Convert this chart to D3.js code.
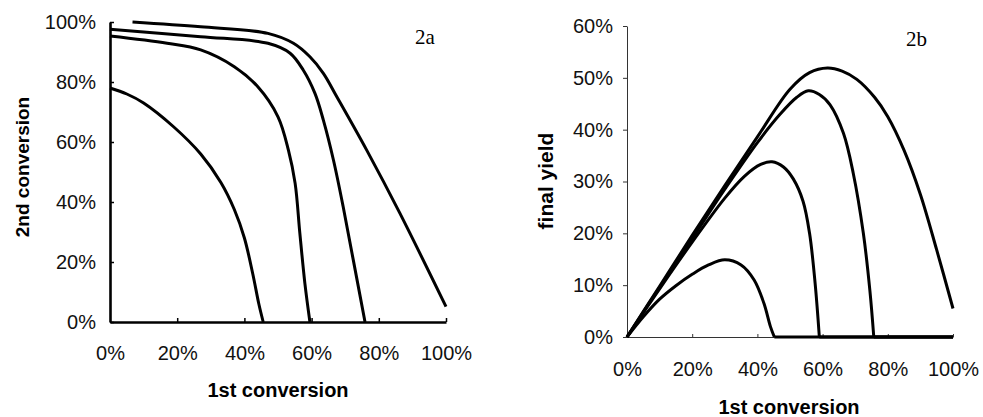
<!DOCTYPE html>
<html>
<head>
<meta charset="utf-8">
<script src="https://cdn.jsdelivr.net/npm/d3@7"></script>
<style>
  body { margin: 0; background: #fff; }
  svg { display: block; }
</style>
</head>
<body>
<svg id="chart" width="983" height="417"></svg>
<script>
// ---- data ----
// 2a : 2nd conversion vs 1st conversion, four curves
var curveA2a = [[0, 0.78], [0.05, 0.76], [0.10, 0.73], [0.19, 0.65], [0.27, 0.56], [0.33, 0.465], [0.37, 0.375], [0.40, 0.28], [0.425, 0.16], [0.443, 0.06], [0.456, 0]];
var curveB2a = [[0, 0.953], [0.17, 0.929], [0.27, 0.907], [0.37, 0.851], [0.44, 0.784], [0.50, 0.684], [0.531, 0.573], [0.551, 0.462], [0.565, 0.296], [0.58, 0.129], [0.595, 0]];
var curveC2a = [[0, 0.976], [0.27, 0.951], [0.47, 0.929], [0.536, 0.896], [0.575, 0.84], [0.61, 0.762], [0.635, 0.673], [0.665, 0.54], [0.694, 0.384], [0.724, 0.207], [0.759, 0]];
var curveD2a = [[0.067, 1.0], [0.27, 0.984], [0.47, 0.962], [0.546, 0.929], [0.595, 0.884], [0.635, 0.829], [0.675, 0.751], [0.764, 0.573], [0.863, 0.362], [1.0, 0.051]];

// 2b : final yield vs 1st conversion (the three lower curves run on along 0 to 100%)
var curveE2b = [[0, 0], [0.05, 0.039], [0.10, 0.073], [0.15, 0.099], [0.20, 0.121], [0.25, 0.139], [0.30, 0.149], [0.35, 0.139], [0.39, 0.11], [0.42, 0.065], [0.44, 0.02], [0.452, 0], [1.0, 0]];
var curveF2b = [[0, 0], [0.10, 0.093], [0.20, 0.183], [0.30, 0.268], [0.36, 0.31], [0.41, 0.333], [0.445, 0.338], [0.48, 0.328], [0.51, 0.305], [0.54, 0.262], [0.56, 0.20], [0.577, 0.104], [0.59, 0], [1.0, 0]];
var curveG2b = [[0, 0], [0.10, 0.096], [0.20, 0.19], [0.30, 0.285], [0.40, 0.375], [0.47, 0.43], [0.52, 0.462], [0.556, 0.475], [0.59, 0.468], [0.623, 0.448], [0.664, 0.393], [0.694, 0.316], [0.725, 0.20], [0.745, 0.09], [0.757, 0], [1.0, 0]];
var curveH2b = [[0, 0], [0.10, 0.098], [0.20, 0.196], [0.30, 0.292], [0.40, 0.386], [0.50, 0.478], [0.56, 0.51], [0.615, 0.519], [0.66, 0.513], [0.705, 0.497], [0.76, 0.462], [0.80, 0.425], [0.85, 0.36], [0.90, 0.275], [0.95, 0.168], [1.0, 0.055]];

var xTicks = [0, 0.2, 0.4, 0.6, 0.8, 1.0];
var yTicks2a = [0, 0.2, 0.4, 0.6, 0.8, 1.0];
var yTicks2b = [0, 0.1, 0.2, 0.3, 0.4, 0.5, 0.6];

var xTitle = "1st conversion";
var yTitle2a = "2nd conversion";
var yTitle2b = "final yield";
var panelLabels = ["2a", "2b"];

// ---- drawing ----
var svg = d3.select("#chart");
var sansFont = "'Liberation Sans', Arial, Helvetica, sans-serif";
var pct = d3.format(".0%");

var xL = d3.scaleLinear().domain([0, 1]).range([110, 446]);
var yL = d3.scaleLinear().domain([0, 1]).range([322, 22]);
var xR = d3.scaleLinear().domain([0, 1]).range([627, 953]);
var yR = d3.scaleLinear().domain([0, 0.6]).range([337, 26]);

function styleAxis(g, lineWidth, color) {
    g.selectAll("text")
        .style("font-family", sansFont)
        .style("font-size", "20px")
        .style("fill", "#111");
    g.select(".domain").style("stroke", color).style("stroke-width", lineWidth);
    g.selectAll(".tick line").style("stroke", color).style("stroke-width", 1.5);
}

function drawCurve(points, xs, ys) {
    // smooth part up to the point where the curve reaches 0, straight run along the axis after it
    var cut = points.length;
    for (var i = 1; i < points.length; i++) {
        if (points[i][1] === 0) { cut = i + 1; break; }
    }
    var smooth = d3.line()
        .x(function (d) { return xs(d[0]); })
        .y(function (d) { return ys(d[1]); })
        .curve(d3.curveCatmullRom.alpha(0.5));
    var straight = d3.line()
        .x(function (d) { return xs(d[0]); })
        .y(function (d) { return ys(d[1]); });

    svg.append("path")
        .datum(points.slice(0, cut))
        .attr("d", smooth)
        .style("fill", "none")
        .style("stroke", "#000")
        .style("stroke-width", 3)
        .style("stroke-linejoin", "round");
    if (cut < points.length) {
        svg.append("path")
            .datum(points.slice(cut - 1))
            .attr("d", straight)
            .style("fill", "none")
            .style("stroke", "#000")
            .style("stroke-width", 3);
    }
}

// ---------- panel 2a ----------
var gxL = svg.append("g")
    .attr("transform", "translate(0," + yL(0) + ")")
    .call(d3.axisBottom(xL).tickValues(xTicks).tickFormat(pct).tickSize(-4).tickSizeOuter(0).tickPadding(24));
styleAxis(gxL, 2.6, "#000");
gxL.select(".tick line").remove(); // no tick at origin

var gyL = svg.append("g")
    .attr("transform", "translate(" + xL(0) + ",0)")
    .call(d3.axisLeft(yL).tickValues(yTicks2a).tickFormat(pct).tickSize(-4).tickSizeOuter(0).tickPadding(14));
styleAxis(gyL, 2.6, "#000");

[curveA2a, curveB2a, curveC2a, curveD2a].forEach(function (c) {
    drawCurve(c, xL, yL);
});

svg.append("text")
    .attr("x", 278)
    .attr("y", 397)
    .attr("text-anchor", "middle")
    .style("font-family", sansFont)
    .style("font-weight", "bold")
    .style("font-size", "20px")
    .text(xTitle);

svg.append("text")
    .attr("transform", "translate(29,167) rotate(-90)")
    .attr("text-anchor", "middle")
    .style("font-family", sansFont)
    .style("font-weight", "bold")
    .style("font-size", "19px")
    .text(yTitle2a);

svg.append("text")
    .attr("x", 415)
    .attr("y", 44)
    .style("font-family", "'Liberation Serif', 'Times New Roman', serif")
    .style("font-size", "21px")
    .text(panelLabels[0]);

// ---------- panel 2b ----------
var gxR = svg.append("g")
    .attr("transform", "translate(0," + yR(0) + ")")
    .call(d3.axisBottom(xR).tickValues(xTicks).tickFormat(pct).tickSize(-3).tickSizeOuter(0).tickPadding(25));
styleAxis(gxR, 1, "#333");
gxR.selectAll(".tick line").style("stroke-width", 1);

var gyR = svg.append("g")
    .attr("transform", "translate(" + xR(0) + ",0)")
    .call(d3.axisLeft(yR).tickValues(yTicks2b).tickFormat(pct).tickSize(4).tickSizeOuter(0).tickPadding(10));
styleAxis(gyR, 1, "#333");
gyR.selectAll(".tick line").style("stroke-width", 1);

[curveE2b, curveF2b, curveG2b, curveH2b].forEach(function (c) {
    drawCurve(c, xR, yR);
});

svg.append("text")
    .attr("x", 789)
    .attr("y", 414)
    .attr("text-anchor", "middle")
    .style("font-family", sansFont)
    .style("font-weight", "bold")
    .style("font-size", "20px")
    .text(xTitle);

svg.append("text")
    .attr("transform", "translate(553,181) rotate(-90)")
    .attr("text-anchor", "middle")
    .style("font-family", sansFont)
    .style("font-weight", "bold")
    .style("font-size", "21px")
    .text(yTitle2b);

svg.append("text")
    .attr("x", 906)
    .attr("y", 46)
    .style("font-family", "'Liberation Serif', 'Times New Roman', serif")
    .style("font-size", "21px")
    .text(panelLabels[1]);
</script>
</body>
</html>
